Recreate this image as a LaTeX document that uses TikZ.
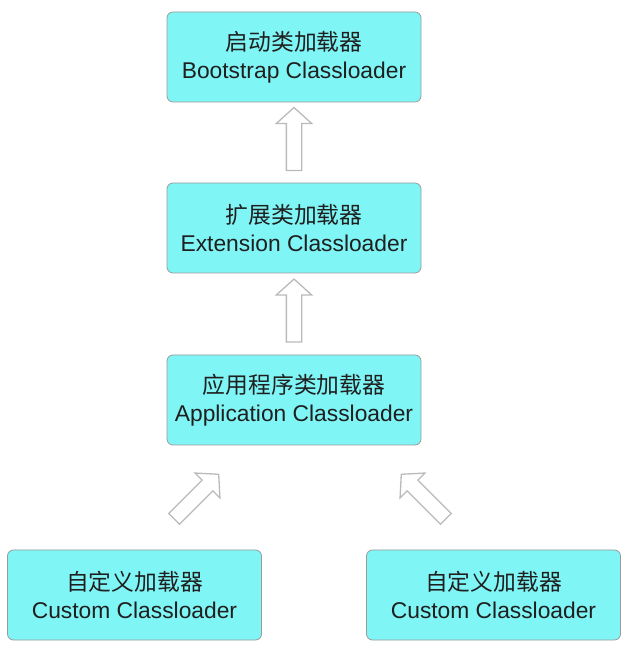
\documentclass[tikz,border=0pt]{standalone}
\usepackage{fontspec}
\setmainfont{Liberation Sans}
\newfontfamily\cjk{Noto Sans CJK SC}
\usepackage{xcolor}
\usepackage{tikz}
\usetikzlibrary{calc,shapes.arrows}
\definecolor{boxfill}{HTML}{80F5F5}
\definecolor{boxline}{HTML}{9A9A9A}
\definecolor{arrline}{HTML}{BABABA}
\tikzset{ld/.style={draw=boxline,thick,fill=boxfill,rounded corners=6bp,minimum width=254bp,minimum height=90bp,align=center,text=black!88,font=\fontsize{22.8bp}{28bp}\selectfont},
hollow/.style={single arrow,draw=arrline,line width=1.3bp,fill=white,inner xsep=0pt,inner ysep=7bp,minimum height=63bp,minimum width=34bp,single arrow head extend=10bp,single arrow tip angle=96}}

\begin{document}
\begin{tikzpicture}[x=1bp,y=1bp]
\useasboundingbox (0,0) rectangle (625,660);
\node[ld] (boot) at (294,603) {{\cjk 启动类加载器}\\Bootstrap Classloader};
\node[ld] (ext) at (294,432) {{\cjk 扩展类加载器}\\Extension Classloader};
\node[ld] (app) at (294,260) {{\cjk 应用程序类加载器}\\Application Classloader};
\node[ld] (cusl) at (134.5,65) {{\cjk 自定义加载器}\\Custom Classloader};
\node[ld] (cusr) at (493.5,65) {{\cjk 自定义加载器}\\Custom Classloader};
% hollow arrows, child -> parent
\node[hollow,rotate=90] (a1) at ($(ext.north)!0.5!(boot.south)$) {};
\node[hollow,rotate=90] (a2) at ($(app.north)!0.5!(ext.south)$) {};
\node[hollow,rotate=45] (a3) at (194,161) {};
\node[hollow,rotate=135] (a4) at (426,161) {};
\end{tikzpicture}
\end{document}
